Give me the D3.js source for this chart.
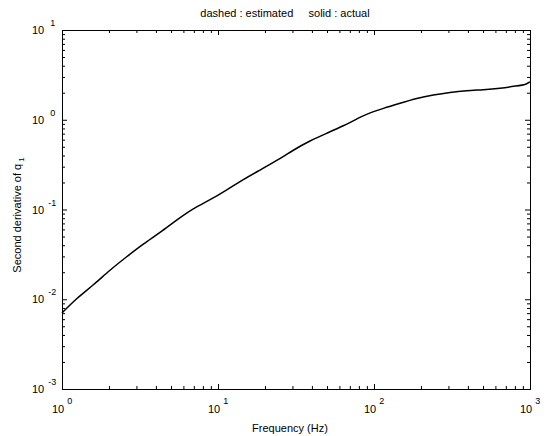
<!DOCTYPE html>
<head>
<meta charset="utf-8">
<script src="https://d3js.org/d3.v7.min.js"></script>
<style>
body { margin: 0; background: #fff; }
text { font-family: "Liberation Sans", Arial, sans-serif; fill: #000; white-space: pre; }
</style>
</head>
<body>
<div id="chart"></div>
<script>
// ---- data ----
var freq  = [1, 1.24, 1.59, 2.03, 2.6, 3.32, 4.25, 5.43, 6.95, 8.89, 11.4, 14.5, 18.6, 23.8, 30.4,
             38.9, 49.7, 63.5, 81.3, 89.8, 115, 147, 188, 240, 307, 393, 502, 642, 822, 952, 1000];
var actual = [0.00703, 0.01025, 0.0144, 0.0212, 0.0298, 0.0413, 0.0552, 0.0764, 0.1031, 0.1276,
              0.165, 0.217, 0.275, 0.35, 0.46, 0.584, 0.706, 0.851, 1.065, 1.159, 1.342, 1.525,
              1.733, 1.887, 2.02, 2.11, 2.16, 2.24, 2.38, 2.48, 2.65];
var xDecades = [0, 1, 2, 3];
var yDecades = [-3, -2, -1, 0, 1];
var titleText = "dashed : estimated     solid : actual";
var xLabel = "Frequency (Hz)";
var yLabel = "Second derivative of q";

// ---- layout ----
var W = 549, H = 436;
var mLeft = 62, mRight = 530, mTop = 30, mBottom = 389;

var svg = d3.select("#chart").append("svg")
    .attr("width", W).attr("height", H);

var x = d3.scaleLog().domain([1, 1000]).range([mLeft, mRight]);
var y = d3.scaleLog().domain([0.001, 10]).range([mBottom, mTop]);

// minor ticks 2..9 per decade
function minors(decs) {
  var out = [];
  decs.slice(0, -1).forEach(function(d) {
    for (var k = 2; k <= 9; k++) out.push(k * Math.pow(10, d));
  });
  return out;
}
var xMajor = xDecades.map(function(d) { return Math.pow(10, d); });
var yMajor = yDecades.map(function(d) { return Math.pow(10, d); });

function addAxis(gen, tx, vals, len) {
  svg.append("g")
    .attr("transform", tx)
    .call(gen.tickValues(vals).tickSizeInner(len).tickSizeOuter(0).tickFormat(""))
    .call(function(g) {
      g.select(".domain").attr("stroke", "#000");
      g.selectAll(".tick line").attr("stroke", "#000");
    });
}
// bottom / top
addAxis(d3.axisBottom(x), "translate(0," + mBottom + ")", xMajor, -5);
addAxis(d3.axisBottom(x), "translate(0," + mBottom + ")", minors(xDecades), -3);
addAxis(d3.axisTop(x), "translate(0," + mTop + ")", xMajor, -5);
addAxis(d3.axisTop(x), "translate(0," + mTop + ")", minors(xDecades), -3);
// left / right
addAxis(d3.axisLeft(y), "translate(" + mLeft + ",0)", yMajor, -5);
addAxis(d3.axisLeft(y), "translate(" + mLeft + ",0)", minors(yDecades), -3);
addAxis(d3.axisRight(y), "translate(" + mRight + ",0)", yMajor, -5);
addAxis(d3.axisRight(y), "translate(" + mRight + ",0)", minors(yDecades), -3);

// x tick labels 10^n
xDecades.forEach(function(d) {
  var t = svg.append("text")
    .attr("x", x(Math.pow(10, d)) - 10)
    .attr("y", mBottom + 24)
    .style("font-size", "11px");
  t.append("tspan").text("10");
  t.append("tspan").attr("dx", 3).attr("dy", -9).style("font-size", "9px").text(d);
});

// y tick labels 10^n
yDecades.forEach(function(d) {
  var t = svg.append("text")
    .attr("x", 32)
    .attr("y", y(Math.pow(10, d)) + 4)
    .style("font-size", "11px");
  t.append("tspan").text("10");
  t.append("tspan").attr("dx", d < 0 ? 4 : 6).attr("dy", -8).style("font-size", "9px").text(d);
});

// curve
var line = d3.line()
  .x(function(d) { return x(d[0]); })
  .y(function(d) { return y(d[1]); })
  .curve(d3.curveBasis);

svg.append("path")
  .datum(d3.zip(freq, actual))
  .attr("d", line)
  .attr("fill", "none")
  .attr("stroke", "#000")
  .attr("stroke-width", 1.5);

// title & labels
svg.append("text")
  .attr("x", 285).attr("y", 17)
  .attr("text-anchor", "middle")
  .style("font-size", "11px")
  .text(titleText);

svg.append("text")
  .attr("x", 290).attr("y", 432)
  .attr("text-anchor", "middle")
  .style("font-size", "11px")
  .text(xLabel);

var yl = svg.append("text")
  .attr("transform", "translate(21,215) rotate(-90)")
  .attr("text-anchor", "middle")
  .style("font-size", "11px");
yl.append("tspan").text(yLabel);
yl.append("tspan").attr("dx", 2).attr("dy", 3).style("font-size", "8px").text("1");
</script>
</body>
